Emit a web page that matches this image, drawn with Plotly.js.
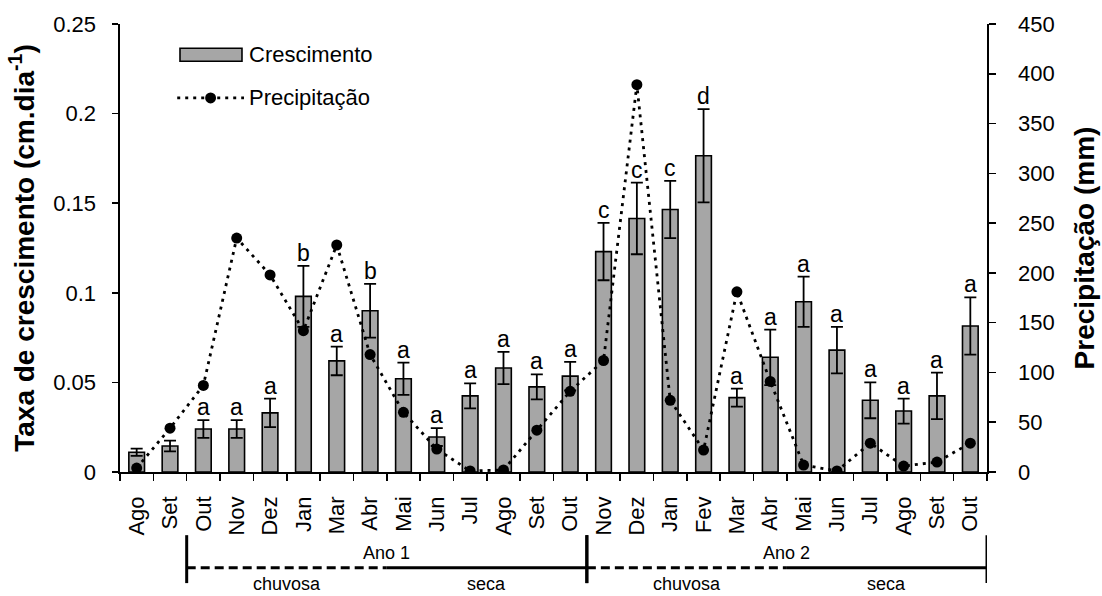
<!DOCTYPE html>
<html>
<head>
<meta charset="utf-8">
<script src="https://cdn.plot.ly/plotly-3.0.1.min.js"></script>
<style>html,body{margin:0;padding:0;background:#fff;}#chart{width:1102px;height:596px;}</style>
</head>
<body>
<div id="chart"></div>
<script>
// ---- data ----
var months = ['Ago','Set','Out','Nov','Dez','Jan','Mar','Abr','Mai','Jun','Jul','Ago','Set','Out',
              'Nov','Dez','Jan','Fev','Mar','Abr','Mai','Jun','Jul','Ago','Set','Out'];
var growth = [0.011,0.0145,0.024,0.024,0.033,0.098,0.062,0.090,0.052,0.0195,0.0425,0.058,0.0475,0.0535,
              0.123,0.1415,0.1465,0.1765,0.0415,0.064,0.095,0.068,0.040,0.034,0.0425,0.0815];
var growthErr = [0.002,0.003,0.005,0.005,0.008,0.017,0.008,0.015,0.009,0.005,0.007,0.009,0.007,0.008,
                 0.016,0.020,0.016,0.026,0.005,0.0155,0.014,0.013,0.010,0.007,0.013,0.016];
var precip = [4,44,87,235,198,142,228,118,60,23,1,2,42,81,
              112,389,72,22,181,91,7,1,29,6,10,29];
var letters = ['','','a','a','a','b','a','b','a','a','a','a','a','a',
               'c','c','c','d','a','a','a','a','a','a','a','a'];
// periods: label, first month index, index of first dry month, last month index
var yearLabels = ['Ano 1','Ano 2'];
var yearFirst = [2, 14];
var dryFirst = [8, 20];
var yearLast = [13, 25];
var seasonLabels = ['chuvosa','seca'];

var FONT = 'Arial, "Liberation Sans", sans-serif';
var idx = months.map(function(_, i){ return i; });
var boundaries = [];
for (var i = 0; i <= months.length; i++) boundaries.push(i - 0.5);

var traces = [
  {
    type: 'bar', x: idx, y: growth, name: 'Crescimento', width: 0.47,
    marker: {color: '#a6a6a6', line: {color: '#000', width: 1.6}},
    error_y: {type: 'data', array: growthErr, visible: true, color: '#000', thickness: 1.8, width: 6},
    xaxis: 'x', yaxis: 'y', showlegend: false
  },
  {
    type: 'scatter', mode: 'lines+markers', x: idx, y: precip, name: 'Precipitação',
    line: {color: '#000', width: 2.8, dash: '3px,5px'},
    marker: {color: '#000', size: 11},
    xaxis: 'x', yaxis: 'y2', showlegend: false
  },
  { // invisible trace to carry boundary tick marks
    type: 'scatter', x: [boundaries[0]], y: [0], mode: 'markers', marker: {opacity: 0},
    xaxis: 'x2', yaxis: 'y', showlegend: false, hoverinfo: 'skip'
  }
];

var annotations = [];
letters.forEach(function(l, i){
  if (!l) return;
  annotations.push({x: i, y: growth[i] + growthErr[i], xref: 'x', yref: 'y', text: l,
    showarrow: false, yanchor: 'bottom', yshift: -2, font: {family: FONT, size: 23, color: '#000'}});
});

var shapes = [];
var yLine = -0.214, yTop = -0.141, yBot = -0.248;
for (var k = 0; k < yearLabels.length; k++) {
  var x0 = yearFirst[k] - 0.5, xm = dryFirst[k] - 0.5, x1 = yearLast[k] + 0.5;
  shapes.push({type: 'line', xref: 'x', yref: 'paper', x0: x0, x1: xm, y0: yLine, y1: yLine,
               line: {color: '#000', width: 3, dash: '9px,5px'}});
  shapes.push({type: 'line', xref: 'x', yref: 'paper', x0: xm, x1: x1, y0: yLine, y1: yLine,
               line: {color: '#000', width: 3}});
  shapes.push({type: 'line', xref: 'x', yref: 'paper', x0: x0, x1: x0, y0: yTop, y1: yBot,
               line: {color: '#000', width: 3}});
  shapes.push({type: 'line', xref: 'x', yref: 'paper', x0: x1, x1: x1, y0: yTop, y1: yBot,
               line: {color: '#000', width: 3}});
  annotations.push({x: xm, y: -0.18, xref: 'x', yref: 'paper', text: yearLabels[k], showarrow: false,
    yanchor: 'middle', font: {family: FONT, size: 18, color: '#000'}});
  annotations.push({x: (x0 + xm) / 2, y: -0.25, xref: 'x', yref: 'paper', text: seasonLabels[0], showarrow: false,
    yanchor: 'middle', font: {family: FONT, size: 18, color: '#000'}});
  annotations.push({x: (xm + x1) / 2, y: -0.25, xref: 'x', yref: 'paper', text: seasonLabels[1], showarrow: false,
    yanchor: 'middle', font: {family: FONT, size: 18, color: '#000'}});
}

// manual legend
shapes.push({type: 'rect', xref: 'paper', yref: 'paper', x0: 0.0692, x1: 0.1407, y0: 0.917, y1: 0.946,
             fillcolor: '#a6a6a6', line: {color: '#000', width: 1.6}});
shapes.push({type: 'line', xref: 'paper', yref: 'paper', x0: 0.066, x1: 0.1430, y0: 0.835, y1: 0.835,
             line: {color: '#000', width: 2.8, dash: '3px,5px'}});
shapes.push({type: 'circle', xref: 'paper', yref: 'paper', x0: 0.1045 - 0.0063, x1: 0.1045 + 0.0063,
             y0: 0.835 - 0.0122, y1: 0.835 + 0.0122, fillcolor: '#000', line: {color: '#000', width: 0}});
annotations.push({x: 0.1465, y: 0.9315, xref: 'paper', yref: 'paper', text: 'Crescimento', showarrow: false,
  xanchor: 'left', yanchor: 'middle', font: {family: FONT, size: 22, color: '#000'}});
annotations.push({x: 0.1465, y: 0.835, xref: 'paper', yref: 'paper', text: 'Precipitação', showarrow: false,
  xanchor: 'left', yanchor: 'middle', font: {family: FONT, size: 22, color: '#000'}});

var layout = {
  width: 1102, height: 596,
  margin: {l: 120, r: 115, t: 24, b: 124},
  paper_bgcolor: '#fff', plot_bgcolor: '#fff',
  font: {family: FONT, color: '#000'},
  showlegend: false,
  xaxis: {
    range: [-0.5, months.length - 0.5], tickmode: 'array', tickvals: idx, ticktext: months,
    tickangle: -90, ticks: '', showline: true, linecolor: '#000', linewidth: 1.6,
    showgrid: false, zeroline: false, tickfont: {family: FONT, size: 22, color: '#000'},
    ticklabelstandoff: 14, fixedrange: true
  },
  xaxis2: {
    overlaying: 'x', range: [-0.5, months.length - 0.5], tickmode: 'array', tickvals: boundaries,
    ticks: 'outside', ticklen: 8, tickwidth: 1.6, tickcolor: '#000', showticklabels: false,
    showline: false, showgrid: false, zeroline: false, side: 'bottom', anchor: 'y'
  },
  yaxis: {
    range: [0, 0.25], dtick: 0.05, ticks: 'outside', ticklen: 6, tickwidth: 1.6, tickcolor: '#000',
    showline: true, linecolor: '#000', linewidth: 1.6, showgrid: false, zeroline: false,
    tickfont: {family: FONT, size: 22, color: '#000'}, ticklabelstandoff: 12,
    title: {text: 'Taxa de crescimento (cm.dia<sup>-1</sup>)', font: {family: FONT, size: 28, color: '#000', weight: 'bold'}, standoff: 10}
  },
  yaxis2: {
    overlaying: 'y', side: 'right', range: [0, 450], dtick: 50, ticks: 'outside', ticklen: 7,
    tickwidth: 1.6, tickcolor: '#000', showline: true, linecolor: '#000', linewidth: 1.6,
    showgrid: false, zeroline: false, tickfont: {family: FONT, size: 22, color: '#000'}, ticklabelstandoff: 18,
    title: {text: 'Precipitação (mm)', font: {family: FONT, size: 28, color: '#000', weight: 'bold'}, standoff: 20}
  },
  annotations: annotations,
  shapes: shapes
};

Plotly.newPlot('chart', traces, layout, {displayModeBar: false, staticPlot: true});
</script>
</body>
</html>
